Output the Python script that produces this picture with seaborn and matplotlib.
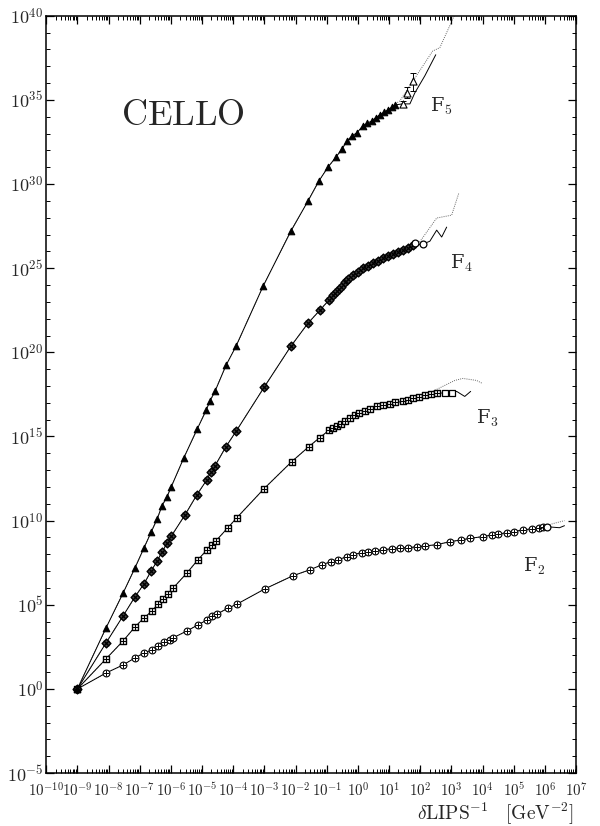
import numpy as np
import pandas as pd
import matplotlib
matplotlib.use("Agg")
import matplotlib.pyplot as plt
import seaborn as sns
from matplotlib.ticker import FixedLocator, FixedFormatter, NullFormatter

# ---- data (log10 values) ----
f2_lx = [-9, -8.08, -7.53, -7.15, -6.86, -6.6, -6.4, -6.22, -6.03, -5.93, -5.48, -5.13, -4.84, -4.68,
         -4.52, -4.17, -3.88, -2.98, -2.08, -1.54, -1.15, -0.87, -0.64, -0.35, -0.16, 0.13, 0.32, 0.54,
         0.8, 1.09, 1.35, 1.6, 1.89, 2.15, 2.53, 2.95, 3.3, 3.6, 4.0, 4.3, 4.5, 4.78, 5.0, 5.3, 5.6,
         5.8, 5.95]
f2_ly = [0, 0.95, 1.43, 1.85, 2.14, 2.32, 2.56, 2.8, 2.92, 3.04, 3.45, 3.81, 4.1, 4.33, 4.45, 4.8,
         5.04, 5.95, 6.73, 7.08, 7.38, 7.56, 7.68, 7.86, 7.98, 8.1, 8.15, 8.21, 8.27, 8.33, 8.39, 8.39,
         8.45, 8.5, 8.57, 8.75, 8.85, 8.95, 9.05, 9.15, 9.2, 9.29, 9.35, 9.45, 9.52, 9.58, 9.62]
f2_open_lx = [6.06]
f2_open_ly = [9.64]
f2_solid_tail_lx = [6.06, 6.47, 6.63]
f2_solid_tail_ly = [9.64, 9.58, 9.7]
f2_dot_tail_lx = [5.95, 6.25, 6.63]
f2_dot_tail_ly = [9.62, 9.82, 10.0]

f3_lx = [-9, -8.08, -7.53, -7.15, -6.86, -6.6, -6.41, -6.25, -6.08, -5.93, -5.48, -5.13, -4.84, -4.68,
         -4.55, -4.17, -3.88, -3.01, -2.12, -1.57, -1.22, -0.93, -0.8, -0.67, -0.55, -0.42, -0.25, -0.1,
         0.05, 0.22, 0.4, 0.61, 0.8, 1.03, 1.2, 1.44, 1.6, 1.76, 1.95, 2.15, 2.35, 2.53]
f3_ly = [0, 1.79, 2.86, 3.69, 4.23, 4.64, 5.06, 5.36, 5.65, 5.99, 6.9, 7.68, 8.27, 8.57, 8.81, 9.58,
         10.18, 11.9, 13.51, 14.4, 14.94, 15.36, 15.48, 15.6, 15.75, 15.9, 16.08, 16.25, 16.38, 16.5,
         16.65, 16.8, 16.88, 16.96, 17.02, 17.08, 17.17, 17.26, 17.35, 17.44, 17.5, 17.56]
f3_open_lx = [2.8, 3.01]
f3_open_ly = [17.6, 17.56]
f3_solid_tail_lx = [2.53, 2.8, 3.01, 3.17, 3.43, 3.62]
f3_solid_tail_ly = [17.56, 17.6, 17.56, 17.68, 17.38, 17.68]
f3_dot_tail_lx = [2.4, 3.11, 3.37, 3.81, 4.0]
f3_dot_tail_ly = [17.68, 18.33, 18.45, 18.33, 18.15]

f4_lx = [-9, -8.08, -7.53, -7.15, -6.86, -6.63, -6.44, -6.28, -6.12, -5.99, -5.54, -5.16, -4.84, -4.71,
         -4.58, -4.23, -3.91, -3.01, -2.15, -1.6, -1.22, -0.93, -0.8, -0.67, -0.55, -0.42, -0.3, -0.16,
         0.0, 0.16, 0.32, 0.48, 0.64, 0.8, 0.96, 1.12, 1.28, 1.44, 1.6, 1.76]
f4_ly = [0, 2.74, 4.35, 5.48, 6.25, 7.02, 7.6, 8.15, 8.66, 9.07, 10.36, 11.55, 12.44, 12.92, 13.27,
         14.4, 15.3, 17.92, 20.36, 21.73, 22.5, 23.1, 23.38, 23.63, 23.9, 24.17, 24.38, 24.58, 24.8,
         25.0, 25.15, 25.3, 25.45, 25.6, 25.72, 25.83, 25.95, 26.07, 26.22, 26.37]
f4_open_lx = [1.83, 2.08]
f4_open_ly = [26.49, 26.43]
f4_solid_tail_lx = [1.76, 2.08, 2.31, 2.53, 2.69, 2.85]
f4_solid_tail_ly = [26.37, 26.43, 26.6, 27.26, 26.85, 27.44]
f4_dot_tail_lx = [2.0, 2.53, 3.01, 3.24]
f4_dot_tail_ly = [26.6, 27.98, 28.15, 29.46]

f5_lx = [-9, -8.08, -7.53, -7.15, -6.86, -6.63, -6.44, -6.28, -6.12, -5.99, -5.58, -5.16, -4.87, -4.74,
         -4.58, -4.23, -3.91, -3.04, -2.15, -1.6, -1.25, -0.96, -0.7, -0.51, -0.35, -0.19, -0.03, 0.16,
         0.3, 0.45, 0.58, 0.7, 0.83, 0.96, 1.09, 1.19]
f5_ly = [0, 3.63, 5.71, 7.2, 8.39, 9.33, 10.1, 10.9, 11.43, 12.0, 13.75, 15.42, 16.55, 17.13, 17.7,
         19.23, 20.36, 23.93, 27.2, 28.99, 30.18, 31.0, 31.6, 32.08, 32.55, 32.86, 33.04, 33.45, 33.6,
         33.75, 33.95, 34.1, 34.25, 34.4, 34.55, 34.7]
f5_open_lx = [1.44, 1.57, 1.76]
f5_open_ly = [34.76, 35.42, 36.13]
f5_open_lo = [34.55, 35.1, 35.5]
f5_open_hi = [34.95, 35.75, 36.6]
f5_solid_tail_lx = [1.19, 1.44, 1.67, 1.83, 2.15, 2.5]
f5_solid_tail_ly = [34.7, 34.76, 34.76, 35.42, 36.43, 37.68]
f5_dot_tail_lx = [1.19, 1.35, 2.4, 2.63, 3.11, 3.3]
f5_dot_tail_ly = [34.75, 34.94, 37.9, 38.1, 40.06, 40.6]

curve_names = ["F$_2$", "F$_3$", "F$_4$", "F$_5$"]
label_lx = [5.3, 3.8, 2.95, 2.3]
label_ly = [7.3, 16.1, 25.3, 34.6]

x_tick_exp = list(range(-10, 8))
y_tick_exp = list(range(-5, 41, 5))


def df(lx, ly):
    return pd.DataFrame({"x": np.power(10.0, lx), "y": np.power(10.0, ly)})


# ---- style ----
sns.set_theme(style="ticks")
plt.rcParams["font.family"] = ["DejaVu Serif"]
plt.rcParams["mathtext.fontset"] = "cm"

fig = plt.figure(figsize=(6.0, 8.26), dpi=100)
ax = fig.add_axes([0.077, 0.064, 0.883, 0.917])
ax.set_xscale("log")
ax.set_yscale("log")

curves = [
    (f2_lx, f2_ly, f2_solid_tail_lx, f2_solid_tail_ly, f2_dot_tail_lx, f2_dot_tail_ly),
    (f3_lx, f3_ly, f3_solid_tail_lx, f3_solid_tail_ly, f3_dot_tail_lx, f3_dot_tail_ly),
    (f4_lx, f4_ly, f4_solid_tail_lx, f4_solid_tail_ly, f4_dot_tail_lx, f4_dot_tail_ly),
    (f5_lx, f5_ly, f5_solid_tail_lx, f5_solid_tail_ly, f5_dot_tail_lx, f5_dot_tail_ly),
]
for lx, ly, slx, sly, dlx, dly in curves:
    d_main = df(lx, ly)
    d_solid = pd.concat([d_main, df(slx, sly)], ignore_index=True)
    d_dot = pd.concat([d_main, df(dlx, dly)], ignore_index=True)
    sns.lineplot(data=d_dot, x="x", y="y", sort=False, estimator=None, ax=ax,
                 color="black", lw=0.7, ls=(0, (1, 1.2)), alpha=0.6)
    sns.lineplot(data=d_solid, x="x", y="y", sort=False, estimator=None, ax=ax,
                 color="black", lw=0.7)

# markers
d2 = df(f2_lx, f2_ly)
sns.scatterplot(data=d2, x="x", y="y", ax=ax, marker="o", s=24, facecolor="white",
                edgecolor="black", linewidth=0.8, zorder=3)
sns.scatterplot(data=d2, x="x", y="y", ax=ax, marker="+", s=20, color="black",
                linewidth=0.7, zorder=4)
d3 = df(f3_lx, f3_ly)
sns.scatterplot(data=d3, x="x", y="y", ax=ax, marker="s", s=20, facecolor="white",
                edgecolor="black", linewidth=1.0, zorder=3)
sns.scatterplot(data=d3, x="x", y="y", ax=ax, marker="+", s=14, color="black",
                linewidth=0.8, zorder=4)
d4 = df(f4_lx, f4_ly)
sns.scatterplot(data=d4, x="x", y="y", ax=ax, marker="D", s=20, facecolor="#444444",
                edgecolor="black", linewidth=1.0, zorder=3)
sns.scatterplot(data=d4, x="x", y="y", ax=ax, marker="x", s=16, color="black",
                linewidth=0.9, zorder=4)
d5 = df(f5_lx, f5_ly)
sns.scatterplot(data=d5, x="x", y="y", ax=ax, marker="^", s=22, color="black",
                edgecolor="black", linewidth=0.8, zorder=3)

# open end markers
sns.scatterplot(data=df(f2_open_lx, f2_open_ly), x="x", y="y", ax=ax, marker="o", s=24,
                facecolor="white", edgecolor="black", linewidth=0.9, zorder=5)
sns.scatterplot(data=df(f3_open_lx, f3_open_ly), x="x", y="y", ax=ax, marker="s", s=20,
                facecolor="white", edgecolor="black", linewidth=0.9, zorder=5)
sns.scatterplot(data=df(f4_open_lx, f4_open_ly), x="x", y="y", ax=ax, marker="o", s=24,
                facecolor="white", edgecolor="black", linewidth=0.9, zorder=5)
d5o = df(f5_open_lx, f5_open_ly)
lo = np.power(10.0, f5_open_lo)
hi = np.power(10.0, f5_open_hi)
ax.errorbar(d5o["x"], d5o["y"], yerr=[d5o["y"] - lo, hi - d5o["y"]], fmt="none",
            ecolor="black", elinewidth=0.7, capsize=2.5, capthick=0.7, zorder=4)
sns.scatterplot(data=d5o, x="x", y="y", ax=ax, marker="^", s=26, facecolor="white",
                edgecolor="black", linewidth=0.8, zorder=5)

# curve labels
for name, lxp, lyp in zip(curve_names, label_lx, label_ly):
    ax.text(10.0 ** lxp, 10.0 ** lyp, name, fontsize=14, ha="left", va="center",
            family="DejaVu Serif")
ax.text(10.0 ** -5.61, 10.0 ** 34.1, r"$\mathrm{CELLO}$", fontsize=26, ha="center", va="center")

# axes
ax.set_xlim(1e-10, 1e7)
ax.set_ylim(1e-5, 1e40)
xt = [10.0 ** e for e in x_tick_exp]
yt = [10.0 ** e for e in y_tick_exp]
ax.xaxis.set_major_locator(FixedLocator(xt))
ax.xaxis.set_major_formatter(FixedFormatter([r"$10^{%d}$" % e for e in x_tick_exp]))
ax.xaxis.set_minor_locator(FixedLocator([m * 10.0 ** e for e in x_tick_exp[:-1] for m in range(2, 10)]))
ax.xaxis.set_minor_formatter(NullFormatter())
ax.yaxis.set_major_locator(FixedLocator(yt))
ax.yaxis.set_major_formatter(FixedFormatter([r"$10^{%d}$" % e for e in y_tick_exp]))
ax.yaxis.set_minor_locator(FixedLocator([10.0 ** e for e in range(-5, 41) if e % 5 != 0]))
ax.yaxis.set_minor_formatter(NullFormatter())
ax.tick_params(which="both", direction="in", top=True, right=True, color="black")
ax.tick_params(which="major", length=6, width=0.9)
ax.tick_params(which="minor", length=3, width=0.7)
ax.tick_params(axis="x", which="major", labelsize=10.8, pad=6)
ax.tick_params(axis="y", which="major", labelsize=13, pad=2)
for sp in ax.spines.values():
    sp.set_color("black")
    sp.set_linewidth(1.1)
ax.set_xlabel(r"$\delta\mathrm{LIPS}^{-1}\ \ \ [\mathrm{GeV}^{-2}]$", fontsize=14, loc="right")
ax.xaxis.set_label_coords(0.995, -0.037)
ax.set_ylabel("")
ax.grid(False)

fig.savefig("out.png", dpi=100, facecolor="white")
